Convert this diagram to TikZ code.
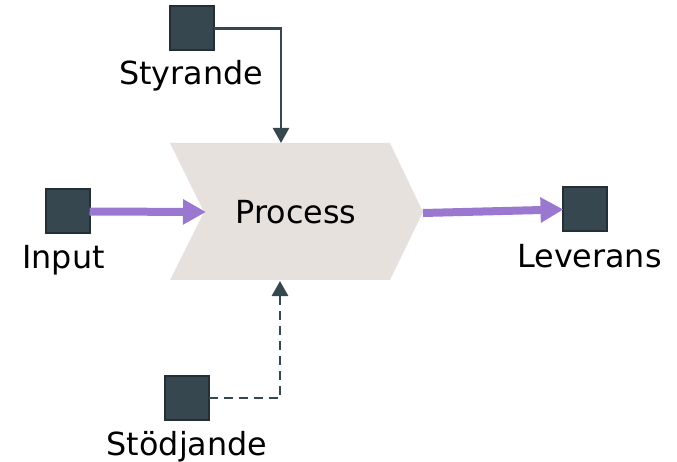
\documentclass[tikz,border=0pt]{standalone}
\usepackage{fontspec}
\setmainfont{DejaVu Sans}
\usetikzlibrary{arrows.meta}
\definecolor{boxfill}{HTML}{37474F}
\definecolor{boxedge}{HTML}{242F35}
\definecolor{chevfill}{HTML}{E7E1DE}
\definecolor{purp}{HTML}{9B78CF}
\tikzset{
  sq/.style={draw=boxedge, fill=boxfill, line width=2pt, minimum size=44pt, inner sep=0pt, outer sep=0pt},
  lbl/.style={anchor=base, inner sep=0pt, font=\fontsize{31.8}{36}\selectfont},
  ctl/.style={draw=boxfill, line width=2.4pt, -{Triangle[length=15pt,width=16pt]}},
  flow/.style={draw=purp, line width=8pt, -{Triangle[length=23pt,width=24pt]}, shorten >=-1pt},
}
\begin{document}
\begin{tikzpicture}[x=1pt,y=-1pt]
\useasboundingbox (0,0) rectangle (677,462);
% chevron
\fill[chevfill] (170,143) -- (390,143) -- (423,212) -- (390,280) -- (170,280) -- (204,212) -- cycle;
\node[lbl] (proc) at (296,224) {Process};
\coordinate (ctop) at (281,143);
\coordinate (cbot) at (280,281);
\coordinate (cleft) at (205,212);
\coordinate (ctip) at (423,213);
% squares
\node[sq] (styr) at (191.5,28.5) {};
\node[sq] (inp) at (67.5,211.5) {};
\node[sq] (lev) at (584.5,209.5) {};
\node[sq] (stod) at (186.5,398) {};
% labels
\node[lbl] (styrL) at (191,85) {Styrande};
\node[lbl] (inpL) at (63.5,269) {Input};
\node[lbl] (levL) at (589.5,268) {Leverans};
\node[lbl] (stodL) at (187,455) {Stödjande};
% connectors
\draw[ctl] (styr.east) -| (ctop);
\draw[ctl, line width=2.8pt, dash pattern=on 9pt off 6pt] (stod.east) -| (cbot);
\draw[flow] (inp.east) -- (cleft);
\draw[flow] (ctip) -- (lev.west);
\end{tikzpicture}
\end{document}
